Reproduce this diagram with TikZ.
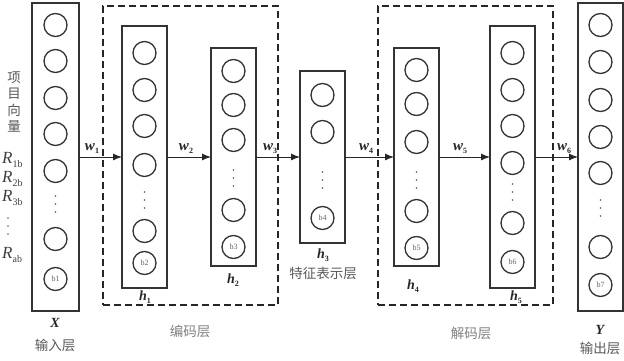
\documentclass[tikz,border=0pt]{standalone}
\usepackage{fontspec}
\setmainfont{Liberation Serif}
\newfontfamily\cjk{Noto Sans CJK SC}
\usetikzlibrary{arrows.meta}
\newcommand\mysub[1]{\raisebox{-0.45ex}{\fontsize{8}{8}\selectfont\upshape #1}}
\newcommand\rsub[1]{\raisebox{-0.5ex}{\fontsize{10}{10}\selectfont\upshape #1}}
\tikzset{
  colbox/.style={draw=black!80, line width=1.5pt, minimum width=45pt, inner sep=0pt, outer sep=0pt},
  neuron/.style={circle, draw=black!80, line width=1.3pt, minimum size=23pt, inner sep=0pt,
    font=\fontsize{8}{8}\selectfont, text=black!60},
  groupbox/.style={draw=black!85, line width=2.4pt, dash pattern=on 7pt off 4pt, inner sep=0pt, outer sep=0pt},
  conn/.style={draw=black!85, line width=1pt, -{Latex[length=9pt,width=7pt]}},
  wlab/.style={font=\fontsize{15}{15}\selectfont\bfseries\itshape, text=black!85, inner sep=0pt},
  hlab/.style={font=\fontsize{14}{14}\selectfont\bfseries\itshape, text=black!85, inner sep=0pt},
  cnlab/.style={font=\cjk\fontsize{13.5}{13.5}\selectfont, text=black!65, inner sep=0pt},
  cngroup/.style={font=\cjk\fontsize{13.5}{13.5}\selectfont, text=black!50, inner sep=0pt},
  rlab/.style={font=\fontsize{17}{17}\selectfont\itshape, text=black!75, inner sep=0pt, anchor=west},
  vdot/.style={fill=black!65},
}
\begin{document}
\begin{tikzpicture}[x=1pt,y=-1pt]
\useasboundingbox (0,0) rectangle (624,361);
\fill[white] (0,0) rectangle (624,361);

% dashed groups
\node[groupbox, minimum width=175pt, minimum height=299pt] (enc) at (190.5,155.5) {};
\node[groupbox, minimum width=175pt, minimum height=299pt] (dec) at (465.5,155.5) {};

% columns
\node[colbox, minimum width=47pt, minimum height=308pt] (X) at (55.5,157) {};
\node[colbox, minimum height=262pt] (h1) at (144.5,157) {};
\node[colbox, minimum height=218pt] (h2) at (233.5,157) {};
\node[colbox, minimum height=172pt] (h3) at (322.5,157) {};
\node[colbox, minimum height=218pt] (h4) at (416.5,157) {};
\node[colbox, minimum height=262pt] (h5) at (512.5,157) {};
\node[colbox, minimum width=45pt, minimum height=308pt] (Y) at (600.5,157) {};

% neurons
\foreach \y [count=\i] in {25,61,98,134,171,239} \node[neuron] (x\i) at (55.5,\y) {};
\node[neuron] (xb) at (55.5,279) {b1};
\foreach \y [count=\i] in {53,90,126,165,231} \node[neuron] (ha\i) at (144.5,\y) {};
\node[neuron] (hab) at (144.5,263) {b2};
\foreach \y [count=\i] in {71,105,140,210} \node[neuron] (hb\i) at (233.5,\y) {};
\node[neuron] (hbb) at (233.5,247) {b3};
\foreach \y [count=\i] in {95,132} \node[neuron] (hc\i) at (322.5,\y) {};
\node[neuron] (hcb) at (322.5,218) {b4};
\foreach \y [count=\i] in {70,104,142,211} \node[neuron] (hd\i) at (416.5,\y) {};
\node[neuron] (hdb) at (416.5,248) {b5};
\foreach \y [count=\i] in {53,90,126,163,223} \node[neuron] (he\i) at (512.5,\y) {};
\node[neuron] (heb) at (512.5,262) {b6};
\foreach \y [count=\i] in {25,62,100,137,173,247} \node[neuron] (y\i) at (600.5,\y) {};
\node[neuron] (yb) at (600.5,285) {b7};

% vertical dots
\foreach \x/\y in {55.5/196, 144.5/192, 233.5/170, 322.5/172, 416.5/172, 512.5/184, 600.5/200, 8/218}
  \foreach \d in {0,8,16} \fill[vdot] (\x,\y+\d) circle (0.9pt);

% connectors
\draw[conn] (X) -- (h1);
\draw[conn] (h1) -- (h2);
\draw[conn] (h2) -- (h3);
\draw[conn] (h3) -- (h4);
\draw[conn] (h4) -- (h5);
\draw[conn] (h5) -- (Y);

% weight labels
\node[wlab] (w1) at (92,149) {w\mysub{1}};
\node[wlab] (w2) at (186,149) {w\mysub{2}};
\node[wlab] (w3) at (270,149) {w\mysub{3}};
\node[wlab] (w4) at (366,149) {w\mysub{4}};
\node[wlab] (w5) at (460,149) {w\mysub{5}};
\node[wlab] (w6) at (564,149) {w\mysub{6}};

% layer labels
\node[hlab] (lh1) at (145,297) {h\mysub{1}};
\node[hlab] (lh2) at (233,280) {h\mysub{2}};
\node[hlab] (lh3) at (323,255) {h\mysub{3}};
\node[hlab] (lh4) at (413,286) {h\mysub{4}};
\node[hlab] (lh5) at (516,297) {h\mysub{5}};
\node[cnlab] (feat) at (323,273) {特征表示层};
\node[hlab] (lX) at (55,323) {X};
\node[cnlab] (inp) at (55,345) {输入层};
\node[hlab] (lY) at (600,330) {Y};
\node[cnlab] (outp) at (600,348) {输出层};
\node[cngroup] (encl) at (190,331) {编码层};
\node[cngroup] (decl) at (471,333) {解码层};

% left side labels
\node[cnlab] (c1) at (14,78) {项};
\node[cnlab] (c2) at (14,94) {目};
\node[cnlab] (c3) at (14,110) {向};
\node[cnlab] (c4) at (14,126) {量};
\node[rlab] (r1) at (2,160) {R\rsub{1b}};
\node[rlab] (r2) at (2,179) {R\rsub{2b}};
\node[rlab] (r3) at (2,198) {R\rsub{3b}};
\node[rlab] (r4) at (2,255) {R\rsub{ab}};
\end{tikzpicture}
\end{document}
